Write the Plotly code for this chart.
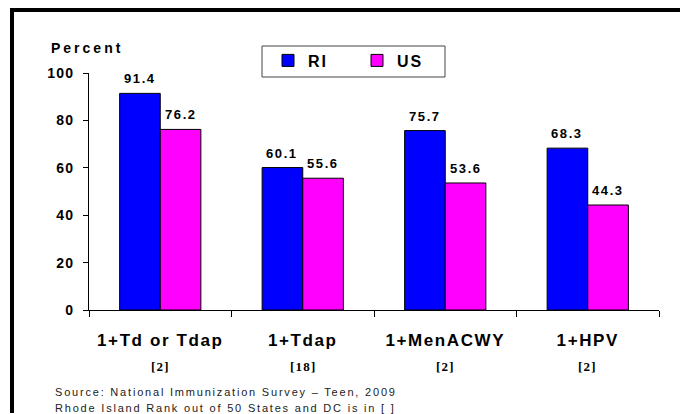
import plotly.graph_objects as go

categories = ["1+Td or Tdap", "1+Tdap", "1+MenACWY", "1+HPV"]
ranks = ["[2]", "[18]", "[2]", "[2]"]
ri_values = [91.4, 60.1, 75.7, 68.3]
us_values = [76.2, 55.6, 53.6, 44.3]
y_ticks = [0, 20, 40, 60, 80, 100]

W, H = 681, 414
L, R, T, B = 89, 22, 73, 104
pw, ph = W - L - R, H - T - B

def px_x(x):
    return (x - L) / pw

def px_y(y):
    return 1 + (T - y) / ph

def sp(text, ls):
    return f'<span style="letter-spacing:{ls}px">{text}</span>'

SANS = "Liberation Sans, Arial, sans-serif"
SERIF = "Liberation Serif, Times New Roman, serif"

fig = go.Figure()
series = [("RI", ri_values, "#0000FF", -1), ("US", us_values, "#FF00FF", 1)]
for name, vals, col, side in series:
    fig.add_trace(go.Bar(
        x=categories, y=vals, name=sp(name, 2),
        marker=dict(color=col, line=dict(color="black", width=1)),
        hoverinfo="skip",
    ))
    for c, v in zip(categories, vals):
        fig.add_annotation(x=c, y=v, xref="x", yref="y", text=sp(f"{v:.1f}", 1.6),
                           showarrow=False, yanchor="bottom", xshift=side * 20.3, yshift=5,
                           font=dict(family=SANS, size=13, color="black", weight="bold"))

for c, r in zip(categories, ranks):
    fig.add_annotation(x=c, xref="x", y=px_y(366), yref="paper", text=sp(r, 1.2),
                       showarrow=False, yanchor="middle",
                       font=dict(family=SERIF, size=13, color="black", weight="bold"))

fig.add_annotation(x=px_x(49), xref="paper", y=px_y(48), yref="paper", text=sp("Percent", 3),
                   showarrow=False, xanchor="left", yanchor="middle",
                   font=dict(family=SANS, size=14, color="black", weight="bold"))

fig.add_annotation(x=px_x(53), xref="paper", y=px_y(392), yref="paper",
                   text=sp("Source: National Immunization Survey \u2013 Teen, 2009", 1.8),
                   showarrow=False, xanchor="left", yanchor="middle",
                   font=dict(family=SANS, size=11, color="#222"))
fig.add_annotation(x=px_x(53), xref="paper", y=px_y(407.5), yref="paper",
                   text=sp("Rhode Island Rank out of 50 States and DC is in [ ]", 1.8),
                   showarrow=False, xanchor="left", yanchor="middle",
                   font=dict(family=SANS, size=11, color="#222"))

# outer frame (top and left edges), kept inside the figure
fig.add_shape(type="line", xref="paper", yref="paper",
              x0=px_x(10), x1=px_x(W - 1), y0=px_y(10), y1=px_y(10),
              line=dict(color="black", width=4), layer="below")
fig.add_shape(type="line", xref="paper", yref="paper",
              x0=px_x(12), x1=px_x(12), y0=px_y(8), y1=px_y(H - 1),
              line=dict(color="black", width=4), layer="below")
# legend box
fig.add_shape(type="rect", xref="paper", yref="paper",
              x0=px_x(262), x1=px_x(445), y0=px_y(77), y1=px_y(46),
              line=dict(color="#444", width=1), fillcolor="white", layer="below")

fig.update_layout(
    width=W, height=H, margin=dict(l=L, r=R, t=T, b=B),
    paper_bgcolor="white", plot_bgcolor="white",
    barmode="group", bargap=0.43, bargroupgap=0,
    showlegend=True,
    legend=dict(orientation="h", x=px_x(268), y=px_y(43.5), xanchor="left", yanchor="top",
                borderwidth=0, bgcolor="rgba(0,0,0,0)",
                font=dict(family=SANS, size=16, color="black", weight="bold"),
                entrywidth=44, entrywidthmode="pixels"),
    xaxis=dict(showline=True, linecolor="black", linewidth=1, ticks="outside",
               tickson="boundaries", ticklen=6, tickcolor="black",
               tickmode="array", tickvals=categories, ticktext=[sp(c, 1.6) for c in categories],
               tickfont=dict(family=SANS, size=17, color="black", weight="bold"),
               ticklabelstandoff=15, showgrid=False),
    yaxis=dict(range=[0, 100], tickmode="array", tickvals=y_ticks,
               ticktext=[sp(str(v), 1.2) for v in y_ticks],
               showline=True, linecolor="black", linewidth=1,
               ticks="outside", ticklen=5, tickcolor="black", showgrid=False, zeroline=False,
               tickfont=dict(family=SANS, size=14, color="black", weight="bold"),
               ticklabelstandoff=6),
)
fig.write_html("out.html", config={"displayModeBar": False},
               post_script="document.body.style.margin='0';"
                           "document.body.style.overflow='hidden';"
                           "document.documentElement.style.overflow='hidden';")
